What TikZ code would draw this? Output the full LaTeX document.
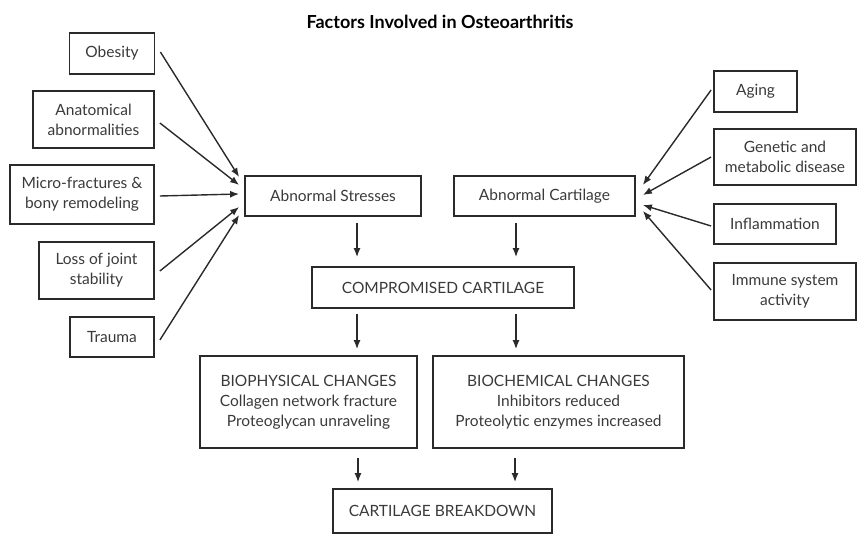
\documentclass[tikz,border=0pt]{standalone}
\usepackage{fontspec}
\setmainfont{Lato}
\usetikzlibrary{arrows.meta}
\definecolor{txt}{HTML}{3A3A3A}
\definecolor{ln}{HTML}{2A2A2A}
\tikzset{
  fbox/.style={draw=ln, line width=1.8pt, rectangle, inner sep=2pt, align=center, text=txt, font=\fontsize{15.5}{20}\selectfont},
  arr/.style={draw=ln, line width=1.4pt, -{Latex[length=9pt,width=7pt]}},
}
\begin{document}
\begin{tikzpicture}[x=1pt,y=-1pt]
\useasboundingbox (0,0) rectangle (857,534);
\node[font=\bfseries\fontsize{18}{20}\selectfont, text=black] (title) at (440,22) {Factors Involved in Osteoarthritis};
% left factors
\node[fbox, minimum width=85pt, minimum height=41pt] (obesity) at (112,53.5) {Obesity};
\node[fbox, minimum width=121pt, minimum height=57pt] (anat) at (93.5,119.5) {Anatomical\\abnormalities};
\node[fbox, minimum width=144pt, minimum height=59pt] (micro) at (82,194.5) {Micro-fractures \&\\bony remodeling};
\node[fbox, minimum width=115pt, minimum height=57pt] (loss) at (96.5,270.5) {Loss of joint\\stability};
\node[fbox, minimum width=84pt, minimum height=40pt] (trauma) at (112,337) {Trauma};
% centre
\node[fbox, minimum width=176pt, minimum height=40pt] (stress) at (333,196) {Abnormal Stresses};
\node[fbox, minimum width=181pt, minimum height=40pt] (cart) at (544.5,196) {Abnormal Cartilage};
\node[fbox, minimum width=262pt, minimum height=41pt] (comp) at (443,287.5) {COMPROMISED CARTILAGE};
% right factors
\node[fbox, minimum width=83pt, minimum height=41pt] (aging) at (755.5,91.5) {Aging};
\node[fbox, minimum width=142pt, minimum height=56pt] (genetic) at (785,157) {Genetic and\\metabolic disease};
\node[fbox, minimum width=122pt, minimum height=40pt] (inflam) at (775,224) {Inflammation};
\node[fbox, minimum width=142pt, minimum height=57pt] (immune) at (785,291.5) {Immune system\\activity};
% changes
\node[fbox, minimum width=217pt, minimum height=92pt] (biophys) at (308.5,402) {BIOPHYSICAL CHANGES\\Collagen network fracture\\Proteoglycan unraveling};
\node[fbox, minimum width=251pt, minimum height=92pt] (biochem) at (558.5,402) {BIOCHEMICAL CHANGES\\Inhibitors reduced\\Proteolytic enzymes increased};
\node[fbox, minimum width=219pt, minimum height=44pt] (breakdown) at (442.5,511) {CARTILAGE BREAKDOWN};
% left arrows
\draw[arr] ([xshift=5pt,yshift=1.5pt]obesity.east) -- ([xshift=-5pt,yshift=19pt]stress.west);
\draw[arr] ([xshift=5pt,yshift=-3.5pt]anat.east) -- ([xshift=-5pt,yshift=11pt]stress.west);
\draw[arr] ([xshift=5pt,yshift=-1.5pt]micro.east) -- ([xshift=-5pt,yshift=2pt]stress.west);
\draw[arr] ([xshift=5pt,yshift=-0.5pt]loss.east) -- ([xshift=-5pt,yshift=-11pt]stress.west);
\draw[arr] ([xshift=5pt,yshift=-3pt]trauma.east) -- ([xshift=-5pt,yshift=-19pt]stress.west);
% right arrows
\draw[arr] ([xshift=-2pt,yshift=1.5pt]aging.west) -- ([xshift=7pt,yshift=11pt]cart.east);
\draw[arr] ([xshift=-2pt]genetic.west) -- ([xshift=7pt,yshift=1pt]cart.east);
\draw[arr] ([xshift=-2pt,yshift=-2pt]inflam.west) -- ([xshift=7pt,yshift=-9pt]cart.east);
\draw[arr] ([xshift=-2pt,yshift=1.5pt]immune.west) -- ([xshift=7pt,yshift=-15pt]cart.east);
% vertical arrows
\draw[arr] ([xshift=24pt,yshift=-6pt]stress.south) -- ([xshift=-86pt,yshift=9pt]comp.north);
\draw[arr] ([xshift=-28.5pt,yshift=-6pt]cart.south) -- ([xshift=73pt,yshift=9pt]comp.north);
\draw[arr] ([xshift=-86pt,yshift=-5pt]comp.south) -- ([xshift=48.5pt,yshift=6pt]biophys.north);
\draw[arr] ([xshift=73pt,yshift=-5pt]comp.south) -- ([xshift=-42.5pt,yshift=6pt]biochem.north);
\draw[arr] ([xshift=49.5pt,yshift=-9pt]biophys.south) -- ([xshift=-84.5pt,yshift=6pt]breakdown.north);
\draw[arr] ([xshift=-43.5pt,yshift=-9pt]biochem.south) -- ([xshift=72.5pt,yshift=6pt]breakdown.north);
\end{tikzpicture}
\end{document}
